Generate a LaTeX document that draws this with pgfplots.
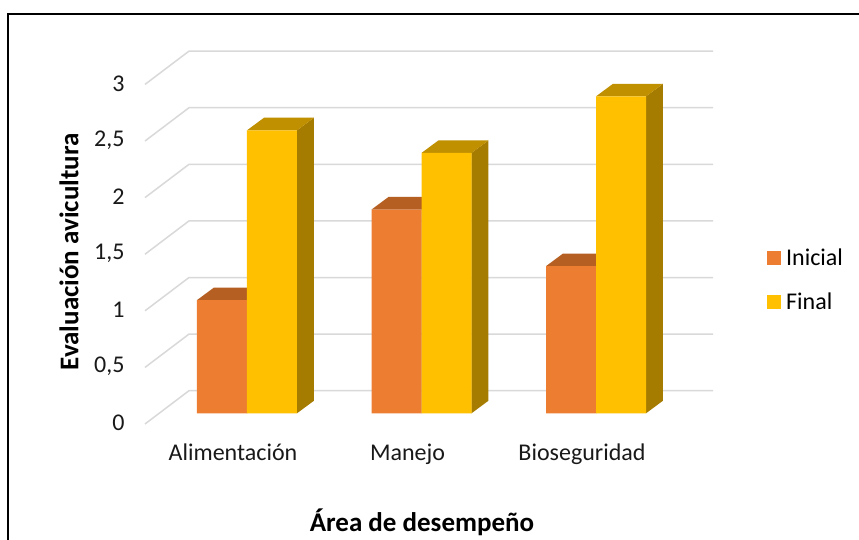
\documentclass[border=0pt]{standalone}
\usepackage{fontspec}
\setmainfont{Carlito}
\usepackage{pgfplots}
\pgfplotsset{compat=1.18}
\definecolor{ini}{HTML}{ED7D31}
\definecolor{initop}{HTML}{B55F22}
\definecolor{fin}{HTML}{FFC000}
\definecolor{fintop}{HTML}{C09000}
\definecolor{finside}{HTML}{A67C00}
\definecolor{gridc}{HTML}{D9D9D9}
% left edge, right edge, value, top colour, side colour
\newcommand{\depthfaces}[5]{%
  \addplot[fill=#5,draw=none,forget plot] coordinates {(#2,0) ({#2+0.0974},0.1113) ({#2+0.0974},{#3+0.1113}) (#2,#3)} --cycle;
  \addplot[fill=#4,draw=none,forget plot] coordinates {(#1,#3) (#2,#3) ({#2+0.0974},{#3+0.1113}) ({#1+0.0974},{#3+0.1113})} --cycle;
}
\newcommand{\gridl}[3]{\addplot[gridc,line width=1.5pt,forget plot,line join=round] coordinates {(-0.5845,#1) (-0.3324,#2) (2.6705,#2)};}
\begin{document}
\begin{tikzpicture}[x=1pt,y=1pt]
\path[use as bounding box] (0,0) rectangle (859,540);
\fill[white] (0,0) rectangle (859,540);
\draw[black,line width=2.5pt] (8,0) -- (8,526) -- (859,526);
\begin{axis}[
  at={(145pt,116pt)},anchor=south west,
  scale only axis,width=568pt,height=384pt,
  xmin=-0.5845,xmax=2.6705,ymin=-0.0945,ymax=3.298,
  clip=false,
  axis line style={draw=none},
  major tick length=0pt,
  tick style={draw=none},
  xtick={0,1,2},
  xticklabels={Alimentación,Manejo,Bioseguridad},
  ytick={0,0.5,1,1.5,2,2.5,3},
  yticklabels={0,{0,5},1,{1,5},2,{2,5},3},
  tick label style={font=\fontsize{24}{28}\selectfont,text=black!90},
  xticklabel style={xshift=-14pt,yshift=-16pt},
  yticklabel style={xshift=-17pt,yshift=-9.7pt},
  xlabel={\textbf{Área de desempeño}},
  ylabel={\textbf{Evaluación avicultura}},
  label style={font=\fontsize{27}{32}\selectfont},
  xlabel style={at={(axis description cs:0.4877,-0.255)},anchor=center},
  ylabel style={at={(axis description cs:-0.1338,0.448)},anchor=center},
  legend style={at={(1.095,0.376)},anchor=west,draw=none,fill=none,
    font=\fontsize{24}{28}\selectfont,row sep=22pt,column sep=3pt,inner sep=0pt},
  legend cell align=left,
  legend image code/.code={\fill[#1] (0pt,-7pt) rectangle (14pt,7pt);},
]
\gridl{-0.0945}{0.1996}{}
\gridl{0.4055}{0.6996}{}
\gridl{0.9055}{1.1996}{}
\gridl{1.4055}{1.6996}{}
\gridl{1.9055}{2.1996}{}
\gridl{2.4055}{2.6996}{}
\gridl{2.9055}{3.1996}{}
% Inicial
\depthfaces{-0.2865}{0}{1}{initop}{initop}
\depthfaces{0.7135}{1}{1.8}{initop}{initop}
\depthfaces{1.7135}{2}{1.3}{initop}{initop}
% Final
\depthfaces{0}{0.2865}{2.5}{fintop}{finside}
\depthfaces{1}{1.2865}{2.3}{fintop}{finside}
\depthfaces{2}{2.2865}{2.8}{fintop}{finside}
\addplot[ybar,bar width=50pt,bar shift=-25pt,fill=ini,draw=none] coordinates {(0,1) (1,1.8) (2,1.3)};
\addplot[ybar,bar width=50pt,bar shift=25pt,fill=fin,draw=none] coordinates {(0,2.5) (1,2.3) (2,2.8)};
\legend{Inicial,Final}
\end{axis}
\end{tikzpicture}
\end{document}
